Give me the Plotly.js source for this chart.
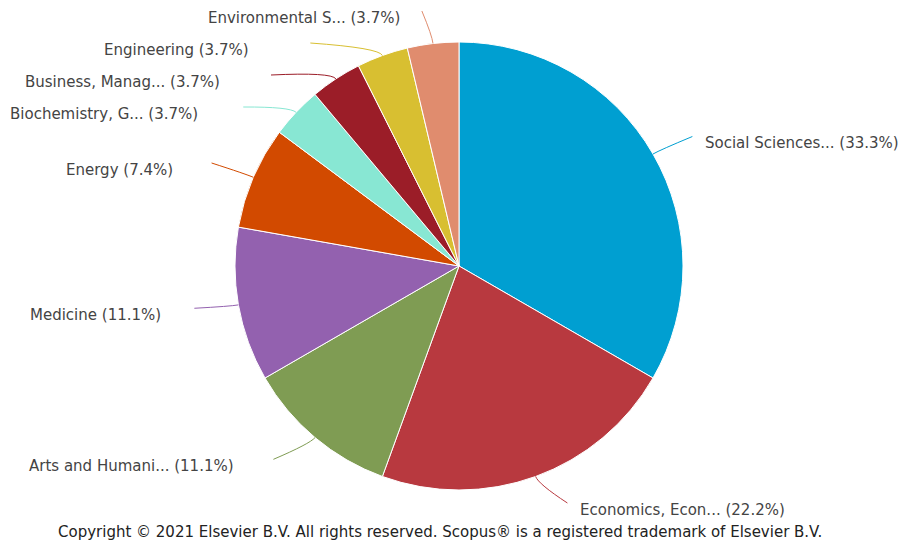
<!DOCTYPE html>
<html>
<head>
<meta charset="utf-8">
<script src="https://cdn.plot.ly/plotly-3.0.1.min.js"></script>
<style>html,body{margin:0;padding:0;background:#fff;}#chart{width:905px;height:543px;}</style>
</head>
<body>
<div id="chart"></div>
<script>
// ---- data ----
const categories = ["Social Sciences...", "Economics, Econ...", "Arts and Humani...", "Medicine", "Energy", "Biochemistry, G...", "Business, Manag...", "Engineering", "Environmental S..."];
const documents = [9, 6, 3, 3, 2, 1, 1, 1, 1];
const colors = ["#009fd1", "#b8393f", "#7f9c53", "#9361af", "#d24a00", "#88e7d3", "#9b1d28", "#d8bf31", "#e08c6e"];
const copyright = "Copyright © 2021 Elsevier B.V. All rights reserved. Scopus® is a registered trademark of Elsevier B.V.";

// ---- layout geometry ----
const W = 905, H = 543;
const cx = 459, cy = 266, r = 224;
const R = r + 44;      // connector radius
const RL = r + 76;     // label radius (left side)
const RY = R - 13;     // label vertical radius
const px = x => x / W, py = y => 1 - y / H;
const circX = (y, rad, right) => {
  const dy = y - cy;
  const g = Math.sqrt(Math.max(rad * rad - dy * dy, 0));
  return right ? cx + g : cx - g;
};

const total = documents.reduce((a, b) => a + b, 0);
let cum = 0;
const items = documents.map((v, i) => {
  const mid = (cum + v / 2) / total * 2 * Math.PI;
  cum += v;
  const s = Math.sin(mid), c = Math.cos(mid);
  return {
    i, s, c,
    nx: cx + R * s,
    want: cy + 5 - RY * c,
    ex: cx + r * s, ey: cy - r * c,
    qx: cx + (r + 8) * s, qy: cy - (r + 8) * c,
    pct: (v / total * 100).toFixed(1)
  };
});

function place(list, right) {
  list.sort((a, b) => a.want - b.want);
  let prev = -Infinity;
  list.forEach(it => {
    let ly = Math.max(it.want, prev + 32, 18);
    ly = Math.min(ly, 510);
    it.ly = ly;
    prev = ly;
    const connY = ly - 7;
    it.connY = connY;
    it.right = right;
    if (right) {
      it.connX = (it.nx + circX(connY, R, true)) / 2;
      it.textX = it.connX + 11;
    } else if (Math.abs(connY - cy) > 0.9 * R) {
      it.connX = it.nx - 6;
      it.textX = it.nx - 26;
    } else {
      it.connX = circX(connY, R, false);
      it.textX = circX(ly, RL, false);
    }
  });
}
place(items.filter(it => it.s > 0.0001), true);
place(items.filter(it => it.s <= 0.0001), false);

const annotations = items.map(it => ({
  xref: 'paper', yref: 'paper',
  x: px(it.textX),
  y: py(it.ly),
  xanchor: it.right ? 'left' : 'right', yanchor: 'middle',
  text: categories[it.i] + ' (' + it.pct + '%)',
  showarrow: false,
  font: {family: 'DejaVu Sans', size: 15, color: '#444444'}
}));
annotations.push({
  xref: 'paper', yref: 'paper', x: px(440), y: py(532),
  xanchor: 'center', yanchor: 'middle', showarrow: false,
  text: copyright,
  font: {family: 'DejaVu Sans', size: 15, color: '#222222'}
});

const shapes = items.map(it => ({
  type: 'path', xref: 'paper', yref: 'paper',
  path: 'M ' + px(it.connX) + ' ' + py(it.connY) +
        ' Q ' + px(it.qx) + ' ' + py(it.qy) + ' ' + px(it.ex) + ' ' + py(it.ey),
  line: {color: colors[it.i], width: 1}
}));

const trace = {
  type: 'pie',
  labels: categories,
  values: documents,
  marker: {colors: colors, line: {color: '#ffffff', width: 1}},
  sort: false,
  direction: 'clockwise',
  rotation: 0,
  textinfo: 'none',
  hoverinfo: 'label+percent',
  showlegend: false,
  domain: {x: [px(cx - r), px(cx + r)], y: [py(cy + r), py(cy - r)]}
};

Plotly.newPlot('chart', [trace], {
  width: W, height: H,
  margin: {l: 0, r: 0, t: 0, b: 0},
  paper_bgcolor: '#ffffff',
  showlegend: false,
  annotations: annotations,
  shapes: shapes,
  font: {family: 'DejaVu Sans'}
}, {displayModeBar: false, staticPlot: true});
</script>
</body>
</html>
